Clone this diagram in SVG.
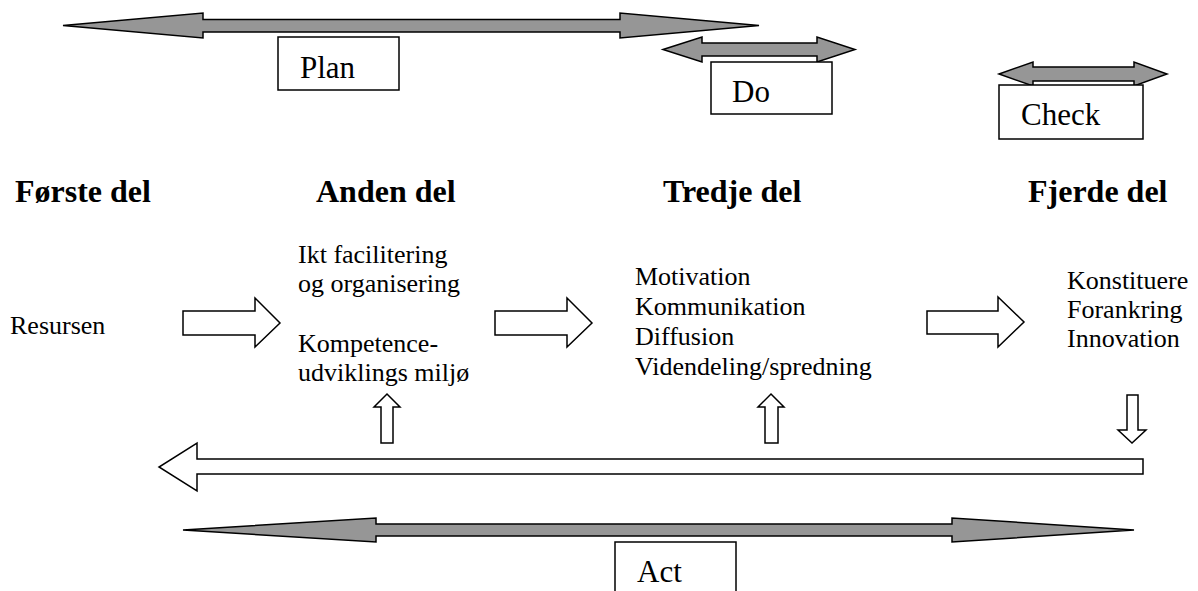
<svg xmlns="http://www.w3.org/2000/svg" width="1198" height="591" viewBox="0 0 1198 591" font-family="'Liberation Serif', serif">
<style>
.g{fill:#969696;stroke:#000;stroke-width:1.5;stroke-linejoin:miter}
.w{fill:#fff;stroke:#000;stroke-width:1.5}
.box{fill:#fff;stroke:#000;stroke-width:1.5}
text{font-family:'Liberation Serif',serif;fill:#000}
.lbl{font-size:31px}
.hd{font-size:32px;font-weight:bold}
.tx{font-size:26px}
</style>
<rect width="1198" height="591" fill="#fff"/>
<g id="connectors">
<polygon class="g" points="63,25.5 203,13 203,19.5 620,19.5 620,13 759,25.5 620,38 620,32 203,32 203,38"/>
<polygon class="g" points="663,49.5 702,37 702,43 817,43 817,37 855,49.5 817,62 817,56 702,56 702,62"/>
<polygon class="g" points="999,74 1033,62 1033,67 1134,67 1134,62 1167,74 1134,86 1134,81 1033,81 1033,86"/>
<polygon class="g" points="183,530 376,518 376,524 952,524 952,518 1134,530 952,542 952,536 376,536 376,542"/>
<polygon class="w" points="183,311 255,311 255,298 280,323 255,347 255,335 183,335"/>
<polygon class="w" points="495,311 567,311 567,298 592,323 567,347 567,335 495,335"/>
<polygon class="w" points="927,311 998,311 998,297 1024,322 998,347 998,334 927,334"/>
<polygon class="w" points="1127,395 1138,395 1138,430 1146,430 1132,443 1118,430 1127,430"/>
<polygon class="w" points="1143,459 197,459 197,443 159,467 197,491 197,474 1143,474"/>
<polygon class="w" points="381,443 381,407 374,407 387,394 400,407 393,407 393,443"/>
<polygon class="w" points="765,443 765,407 758,407 771,394 784,407 778,407 778,443"/>
</g>
<g id="plan"><rect class="box" x="278" y="37" width="121" height="53"/><text class="lbl" x="300" y="78" font-family="Liberation Serif">Plan</text></g>
<g id="do"><rect class="box" x="711" y="62" width="121" height="52"/><text class="lbl" x="732" y="102" font-family="Liberation Serif">Do</text></g>
<g id="check"><rect class="box" x="999" y="85" width="144" height="54"/><text class="lbl" x="1021" y="125" font-family="Liberation Serif">Check</text></g>
<g id="act"><rect class="box" x="615" y="542" width="121" height="60"/><text class="lbl" x="637" y="582" font-family="Liberation Serif">Act</text></g>
<g id="forste"><text class="hd" x="15" y="202">Første del</text><text class="tx" x="10" y="334" font-family="Liberation Serif">Resursen</text></g>
<g id="anden"><text class="hd" x="316" y="202">Anden del</text>
<text class="tx" font-family="Liberation Serif"><tspan x="298" y="263">Ikt facilitering</tspan><tspan x="298" y="292">og organisering</tspan><tspan x="298" y="352">Kompetence-</tspan><tspan x="298" y="381">udviklings miljø</tspan></text></g>
<g id="tredje"><text class="hd" x="663" y="202">Tredje del</text>
<text class="tx" font-family="Liberation Serif"><tspan x="635" y="285">Motivation</tspan><tspan x="635" y="315">Kommunikation</tspan><tspan x="635" y="345">Diffusion</tspan><tspan x="635" y="375">Videndeling/spredning</tspan></text></g>
<g id="fjerde"><text class="hd" x="1028" y="202">Fjerde del</text>
<text class="tx" font-family="Liberation Serif"><tspan x="1067" y="289">Konstituere</tspan><tspan x="1067" y="318">Forankring</tspan><tspan x="1067" y="347">Innovation</tspan></text></g>
</svg>
